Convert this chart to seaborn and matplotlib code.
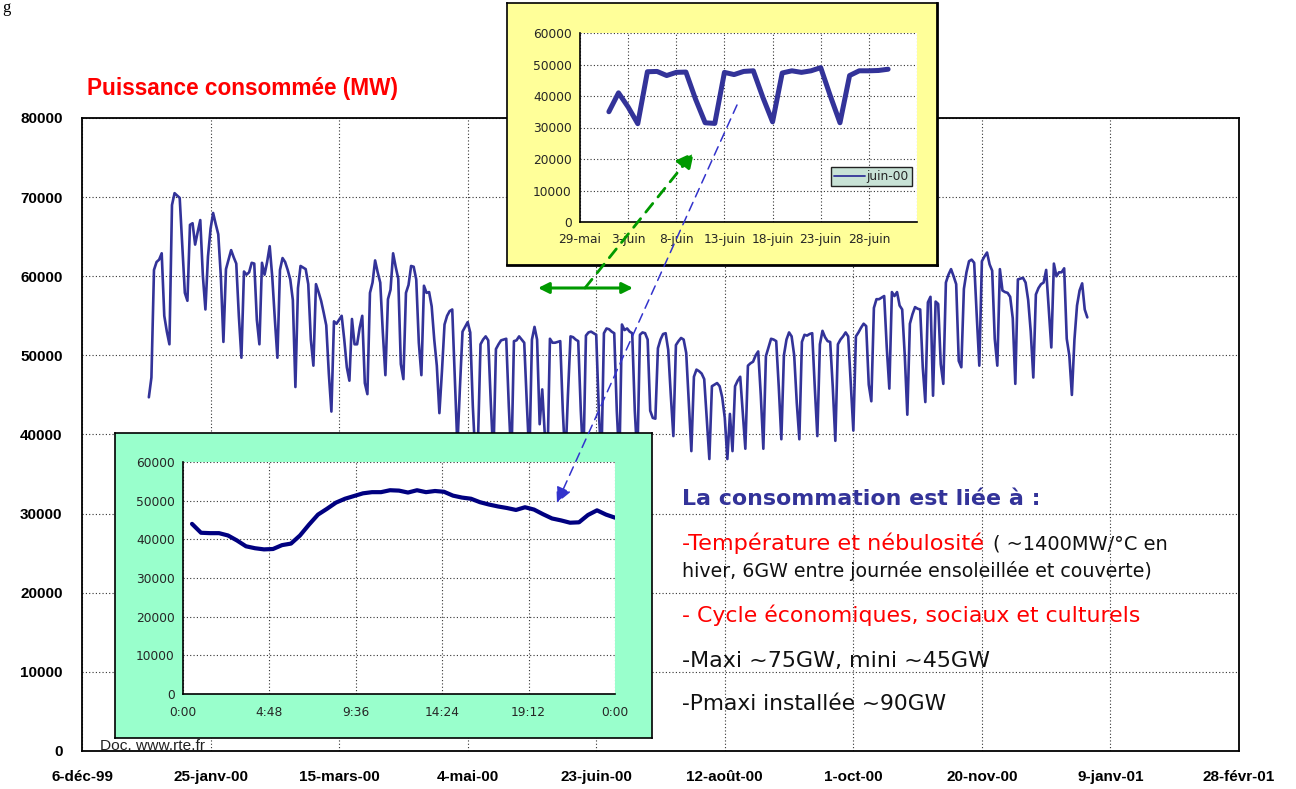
import numpy as np
import pandas as pd
import matplotlib
matplotlib.use("Agg")
import matplotlib.pyplot as plt
import seaborn as sns
from matplotlib.patches import FancyArrowPatch
from matplotlib.lines import Line2D

# ---------------- data ----------------
# daily consumption 2000 (MW): Sat 1 Jan, Sun 2 Jan, then 52 weeks Mon..Sun
first_days_load = [44700, 47200]
weekly_load = [
    [60800, 61800, 62100, 62900, 55000, 53000, 51400],
    [69000, 70500, 70200, 69900, 64000, 57900, 56900],
    [66500, 66700, 64000, 65600, 67100, 60100, 55800],
    [62500, 66000, 68000, 66600, 65300, 60000, 51700],
    [60900, 62100, 63300, 62400, 61600, 55000, 49700],
    [60600, 60200, 60500, 61700, 61600, 54500, 51400],
    [61700, 60200, 61800, 63800, 59900, 54600, 49700],
    [60800, 62300, 61800, 60800, 59600, 57000, 46000],
    [58500, 61300, 61100, 60900, 59000, 52000, 48700],
    [59000, 58000, 56900, 55400, 53800, 47700, 42900],
    [54300, 54000, 54500, 55000, 52000, 48500, 46800],
    [54600, 51400, 51400, 53500, 55000, 46500, 45100],
    [57900, 59200, 62000, 60500, 59200, 52900, 47500],
    [57100, 58300, 62900, 61200, 59700, 48900, 47000],
    [57900, 58900, 61300, 61200, 59600, 51600, 47500],
    [58800, 57900, 58000, 56200, 52000, 48700, 42700],
    [48000, 53900, 55000, 55600, 55800, 47000, 38500],
    [46000, 53000, 53600, 54200, 52900, 43600, 37000],
    [39000, 51400, 52000, 52400, 51900, 44000, 37000],
    [50800, 51400, 51900, 52000, 52100, 43600, 36500],
    [51800, 51900, 52400, 52000, 51600, 44000, 37000],
    [52000, 53600, 52000, 41300, 45700, 40000, 36000],
    [52100, 51600, 51600, 51700, 51800, 43000, 36500],
    [45000, 52400, 52300, 52000, 51800, 43000, 36500],
    [52500, 52900, 53000, 52800, 52600, 43000, 36500],
    [52800, 53400, 53300, 53000, 52800, 43000, 36500],
    [53900, 53200, 53400, 53000, 52800, 43000, 37000],
    [52600, 52900, 52800, 52000, 43000, 42100, 42000],
    [50900, 52000, 52700, 52800, 50700, 45000, 39800],
    [51300, 51800, 52200, 52000, 50300, 44000, 37900],
    [47300, 48200, 48000, 47700, 47000, 42000, 36900],
    [46100, 46300, 46500, 46100, 44700, 42100, 36900],
    [42600, 37900, 46100, 46800, 47300, 42700, 38200],
    [48700, 49000, 49200, 50000, 50500, 45000, 38200],
    [49900, 51000, 52100, 52000, 51800, 46000, 39400],
    [50000, 52000, 52900, 52400, 50000, 44000, 39400],
    [51700, 52600, 52500, 52700, 52800, 46000, 39800],
    [51400, 53100, 52300, 51800, 51700, 46000, 39200],
    [51400, 52000, 52400, 52900, 52400, 46500, 40500],
    [52400, 52900, 53500, 54000, 53700, 46300, 44200],
    [56000, 57100, 57100, 57300, 57500, 51000, 45800],
    [58000, 57500, 58000, 56300, 55800, 50000, 42500],
    [54000, 55200, 56100, 55900, 55800, 48500, 44100],
    [56700, 57400, 44900, 56800, 56500, 48900, 46400],
    [59200, 60200, 60900, 60000, 59000, 49300, 48500],
    [58400, 60500, 61900, 62100, 61700, 55000, 48700],
    [61900, 62500, 63000, 61500, 60700, 52100, 48700],
    [60900, 58200, 58000, 57900, 57400, 54700, 46400],
    [59600, 59700, 59800, 59200, 57000, 53000, 47200],
    [57700, 58500, 59000, 59200, 60800, 56000, 51000],
    [61600, 60000, 60500, 60500, 61000, 52100, 50000],
    [45000, 52000, 56300, 58200, 59100, 55800, 54800],
]
main_tick_labels = ["6-déc-99", "25-janv-00", "15-mars-00", "4-mai-00", "23-juin-00",
                    "12-août-00", "1-oct-00", "20-nov-00", "9-janv-01", "28-févr-01"]
main_y_ticks = [0, 10000, 20000, 30000, 40000, 50000, 60000, 70000, 80000]

# June 2000 daily consumption (yellow inset)
june_load = [35000, 41000, 36500, 31200, 47700, 47800, 46500, 47500, 47600, 39000,
             31500, 31300, 47500, 46800, 47800, 48000, 39500, 31800, 47300, 48000,
             47500, 48000, 49000, 40000, 31500, 46500, 48000, 48000, 48100, 48500]
june_tick_labels = ["29-mai", "3-juin", "8-juin", "13-juin", "18-juin", "23-juin", "28-juin", ""]
inset_y_ticks = [0, 10000, 20000, 30000, 40000, 50000, 60000]

# one day, half-hourly values 0:30 .. 24:00 (green inset)
day_profile = [44000, 41700, 41600, 41600, 41000, 39700, 38200, 37700, 37400, 37500,
               38500, 38900, 41000, 43800, 46400, 47900, 49500, 50500, 51200, 51900,
               52200, 52200, 52700, 52600, 52100, 52700, 52200, 52500, 52300, 51300,
               50800, 50500, 49600, 49000, 48500, 48100, 47600, 48300, 47700, 46500,
               45400, 44900, 44300, 44400, 46300, 47500, 46400, 45600]
profile_tick_labels = ["0:00", "4:48", "9:36", "14:24", "19:12", "0:00"]

# ---------------- figure ----------------
W, H = 1296, 789
sns.set_theme(style="white")
plt.rcParams["font.family"] = ["Liberation Sans", "DejaVu Sans"]

fig = plt.figure(figsize=(W / 100, H / 100), dpi=100)
fig.patch.set_facecolor("white")


def fbox(x0, y0, x1, y1):
    return [x0 / W, 1 - y1 / H, (x1 - x0) / W, (y1 - y0) / H]


def P(x, y):
    return (x / W, 1 - y / H)


dot = (0, (1, 2))

# ---- main chart ----
load = first_days_load + [v for wk in weekly_load for v in wk]
dates = pd.date_range("2000-01-01", periods=len(load), freq="D")
main_df = pd.DataFrame({"date": dates, "MW": load})

ax = fig.add_axes(fbox(82, 118, 1239, 751))
sns.lineplot(data=main_df, x="date", y="MW", ax=ax, color="#333399", lw=1.9,
             legend=False, solid_joinstyle="round")
ax.set_xlim(pd.Timestamp("1999-12-06"), pd.Timestamp("2001-02-28"))
ax.set_ylim(0, 80000)
main_ticks = pd.date_range("1999-12-06", periods=len(main_tick_labels), freq="50D")
ax.set_xticks(main_ticks)
ax.set_xticklabels(main_tick_labels, fontweight="bold", fontsize=11)
ax.set_yticks(main_y_ticks)
ax.set_yticklabels([str(v) for v in main_y_ticks], fontweight="bold", fontsize=11)
ax.set_xlabel("")
ax.set_ylabel("")
ax.grid(True, color="#333333", linestyle=dot, lw=0.8)
for s in ax.spines.values():
    s.set_color("black")
    s.set_linewidth(1.3)
ax.tick_params(axis="both", direction="out", length=5, width=1, color="black",
               labelcolor="black")
ax.tick_params(axis="y", pad=9)
ax.tick_params(axis="x", pad=9)
ax.set_facecolor("white")

# ---- yellow inset ----
ybg = fig.add_axes(fbox(507, 3, 937, 265))
ybg.set_facecolor("#ffff99")
ybg.set_xticks([]); ybg.set_yticks([])
for s in ybg.spines.values():
    s.set_color("black"); s.set_linewidth(1.2)
ybg.spines["right"].set_linewidth(2.0)
ybg.spines["bottom"].set_linewidth(2.0)

june_df = pd.DataFrame({"date": pd.date_range("2000-06-01", periods=len(june_load), freq="D"),
                        "MW": june_load})
ay = fig.add_axes(fbox(580, 33, 917, 222))
ay.set_facecolor("white")
sns.lineplot(data=june_df, x="date", y="MW", ax=ay, color="#333399", lw=3.6,
             legend=False, solid_joinstyle="round", solid_capstyle="round")
ay.set_xlim(pd.Timestamp("2000-05-29"), pd.Timestamp("2000-07-03"))
ay.set_ylim(0, 60000)
ay.set_xticks(pd.date_range("2000-05-29", periods=len(june_tick_labels), freq="5D"))
ay.set_xticklabels(june_tick_labels, fontsize=8.8, family="DejaVu Sans")
ay.set_yticks(inset_y_ticks)
ay.set_yticklabels([str(v) for v in inset_y_ticks], fontsize=8.8, family="DejaVu Sans")
ay.set_xlabel(""); ay.set_ylabel("")
ay.grid(True, color="#333333", linestyle=dot, lw=0.8)
ay.spines["top"].set_visible(False)
ay.spines["right"].set_visible(False)
for s in ("left", "bottom"):
    ay.spines[s].set_color("black"); ay.spines[s].set_linewidth(1.2)
ay.tick_params(axis="both", direction="out", length=3, width=1, color="black", pad=3)
ay.tick_params(axis="x", pad=5)
leg = ay.legend([Line2D([], [], color="#333399", lw=1.3)], ["juin-00"],
                loc="lower right", bbox_to_anchor=(0.985, 0.19),
                prop={"family": "DejaVu Sans", "size": 8.8},
                frameon=True, fancybox=False, borderpad=0.25, handlelength=2.6,
                handletextpad=0.1, borderaxespad=0)
leg.get_frame().set_facecolor("#c8e2d6")
leg.get_frame().set_edgecolor("#222222")
leg.get_frame().set_linewidth(1.0)
leg.get_frame().set_alpha(1)

# ---- green inset ----
gbg = fig.add_axes(fbox(115, 433, 652, 738))
gbg.set_facecolor("#99ffcc")
gbg.set_xticks([]); gbg.set_yticks([])
for s in gbg.spines.values():
    s.set_color("black"); s.set_linewidth(1.2)

hours = np.arange(1, len(day_profile) + 1) * 0.5
prof_df = pd.DataFrame({"h": hours, "MW": day_profile})
ag = fig.add_axes(fbox(183, 462, 615, 694))
ag.set_facecolor("white")
sns.lineplot(data=prof_df, x="h", y="MW", ax=ag, color="#000080", lw=3.0,
             legend=False, solid_joinstyle="round")
ag.set_xlim(0, 24)
ag.set_ylim(0, 60000)
ag.set_xticks(np.linspace(0, 24, len(profile_tick_labels)))
ag.set_xticklabels(profile_tick_labels, fontsize=8.8, family="DejaVu Sans")
ag.set_yticks(inset_y_ticks)
ag.set_yticklabels([str(v) for v in inset_y_ticks], fontsize=8.8, family="DejaVu Sans")
ag.set_xlabel(""); ag.set_ylabel("")
ag.grid(True, color="#333333", linestyle=dot, lw=0.8)
ag.spines["top"].set_visible(False)
ag.spines["right"].set_visible(False)
for s in ("left", "bottom"):
    ag.spines[s].set_color("black"); ag.spines[s].set_linewidth(1.2)
ag.tick_params(axis="both", direction="out", length=3, width=1, color="black", pad=3)
ag.tick_params(axis="x", pad=6)

# ---- arrows ----
fig.add_artist(FancyArrowPatch(P(538, 288), P(633, 288), transform=fig.transFigure,
                               arrowstyle="<|-|>", mutation_scale=16, color="#009900",
                               lw=2.2, shrinkA=0, shrinkB=0))
fig.add_artist(FancyArrowPatch(P(585, 288), P(694, 152), transform=fig.transFigure,
                               arrowstyle="-|>", mutation_scale=26, color="#009900",
                               lw=2.0, linestyle=(0, (4, 3)), shrinkA=0, shrinkB=0))
fig.add_artist(FancyArrowPatch(P(737, 105), P(557, 503), transform=fig.transFigure,
                               arrowstyle="-|>", mutation_scale=24, color="#3333cc",
                               lw=1.1, linestyle=(0, (6, 4)), shrinkA=0, shrinkB=0))

# ---- texts ----
renderer = fig.canvas.get_renderer()


def put(x, y, s, width, **kw):
    t = fig.text(x / W, 1 - y / H, s, fontsize=10, va="baseline", ha="left", **kw)
    w = t.get_window_extent(renderer).width
    t.set_fontsize(10 * width / w)
    return t


put(87, 95, "Puissance consommée (MW)", 311, color="#ff0000", weight="bold",
    family="Liberation Sans")
put(682, 505, "La consommation est liée à :", 359, color="#333399", weight="bold",
    family="DejaVu Sans")
put(682, 550, "-Température et nébulosité", 301, color="#ff0000", family="DejaVu Sans")
put(993, 550, "( ~1400MW/°C en", 175, color="#111111", family="DejaVu Sans")
put(682, 577, "hiver, 6GW entre journée ensoleillée et couverte)", 471, color="#111111",
    family="DejaVu Sans")
put(682, 622, "- Cycle économiques, sociaux et culturels", 456, color="#ff0000",
    family="DejaVu Sans")
put(682, 667, "-Maxi ~75GW, mini ~45GW", 306, color="#111111", family="DejaVu Sans")
put(682, 710, "-Pmaxi installée ~90GW", 265, color="#111111", family="DejaVu Sans")
put(100, 750, "Doc. www.rte.fr", 105, color="#222222", family="Liberation Sans")
fig.text(2 / W, 1 - 12 / H, "g", fontsize=12, family="Liberation Serif", va="baseline",
         color="black")

fig.savefig("out.png", dpi=100, facecolor="white")
